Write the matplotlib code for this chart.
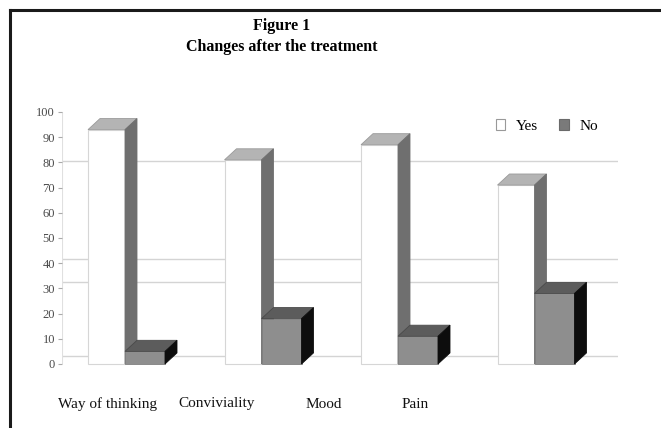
import numpy as np
import matplotlib
matplotlib.use("Agg")
import matplotlib.pyplot as plt
from matplotlib.patches import Polygon, Rectangle, Patch
from matplotlib.lines import Line2D

# --- data ---
categories = ["Way of thinking", "Conviviality", "Mood", "Pain"]
yes_vals = [93, 81, 87, 71]
no_vals = [5, 18, 11, 28]
yticks = [0, 10, 20, 30, 40, 50, 60, 70, 80, 90, 100]
# faint back-wall lines of the 3D chart (value positions)
wall_lines = [80.5, 41.5, 32.5, 3.3]

plt.rcParams['font.family'] = ['Liberation Serif', 'DejaVu Serif']

W, H = 661, 428
fig = plt.figure(figsize=(W / 100, H / 100), dpi=100)

# axes placed in pixel terms
ax_l, ax_r, ax_b, ax_t = 62, 618, 364, 112
ax = fig.add_axes([ax_l / W, (H - ax_b) / H, (ax_r - ax_l) / W, (ax_b - ax_t) / H])

spacing = 136.5                    # px between groups
w_yes = 37 / spacing
w_no = 40 / spacing
dx = 12 / spacing                  # depth offset in x units
dy = 4.4                           # depth offset in value units
x0 = 26 / spacing
ax.set_xlim(-x0, (ax_r - ax_l) / spacing - x0)
ax.set_ylim(0, 100)

for v in wall_lines:
    ax.axhline(v, color="#d4d4d4", lw=1.0, zorder=0)
ax.axvline(-x0, color="#e0e0e0", lw=0.8, zorder=0)

for i in range(len(categories)):
    xl = i
    xr = xl + w_yes
    y = yes_vals[i]
    n = no_vals[i]
    # yes bar: front, top, side
    ax.add_patch(Rectangle((xl, 0), w_yes, y, facecolor="white",
                           edgecolor="#d6d6d6", lw=0.8, zorder=2, clip_on=False))
    ax.add_patch(Polygon([(xl, y), (xr, y), (xr + dx, y + dy), (xl + dx, y + dy)],
                         closed=True, facecolor="#b4b4b4", edgecolor="#9a9a9a",
                         lw=0.6, zorder=2, clip_on=False))
    ax.add_patch(Polygon([(xr, 0), (xr, y), (xr + dx, y + dy), (xr + dx, dy)],
                         closed=True, facecolor="#6f6f6f", edgecolor="#6f6f6f",
                         lw=0.6, zorder=2, clip_on=False))
    # no bar: front, top, side
    nr = xr + w_no
    ax.add_patch(Rectangle((xr, 0), w_no, n, facecolor="#8e8e8e",
                           edgecolor="#808080", lw=0.6, zorder=3, clip_on=False))
    ax.add_patch(Polygon([(xr, n), (nr, n), (nr + dx, n + dy), (xr + dx, n + dy)],
                         closed=True, facecolor="#5c5c5c", edgecolor="#4a4a4a",
                         lw=0.6, zorder=3, clip_on=False))
    ax.add_patch(Polygon([(nr, 0), (nr, n), (nr + dx, n + dy), (nr + dx, dy)],
                         closed=True, facecolor="#0d0d0d", edgecolor="#0d0d0d",
                         lw=0.6, zorder=3, clip_on=False))

for s in ax.spines.values():
    s.set_visible(False)
ax.set_xticks([])
ax.set_yticks(yticks)
ax.set_yticklabels([str(t) for t in yticks], fontsize=9, color="#4a4a4a")
ax.tick_params(axis="y", length=3, width=0.8, color="#aaaaaa", pad=2)

# category labels (placed under the chart like the original)
label_x = [107, 217, 324, 415]
for lx, c in zip(label_x, categories):
    fig.text(lx / W, 1 - 404 / H, c, ha="center", va="center", fontsize=11, color="#111111")

# title
fig.text(282 / W, 1 - 26 / H, "Figure 1", ha="center", va="center",
         fontsize=11.5, fontweight="bold")
fig.text(282 / W, 1 - 47 / H, "Changes after the treatment", ha="center", va="center",
         fontsize=11.5, fontweight="bold")

# legend
handles = [Patch(facecolor="white", edgecolor="#999999", lw=0.8),
           Patch(facecolor="#7a7a7a", edgecolor="#6a6a6a", lw=0.8)]
fig.legend(handles, ["Yes", "No"], loc="center left",
           bbox_to_anchor=(496 / W, 1 - 126 / H), ncol=2, frameon=False,
           fontsize=11, handlelength=0.6, handleheight=0.7, handletextpad=0.7,
           columnspacing=1.4, borderaxespad=0, borderpad=0)

# page frame (left and top rules)
fig.add_artist(Line2D([10 / W, 10 / W], [0, 1 - 10 / H], color="#1a1a1a", lw=2.2))
fig.add_artist(Line2D([10 / W, 1], [1 - 10 / H, 1 - 10 / H], color="#1a1a1a", lw=2.2))

fig.savefig("out.png", dpi=100)
